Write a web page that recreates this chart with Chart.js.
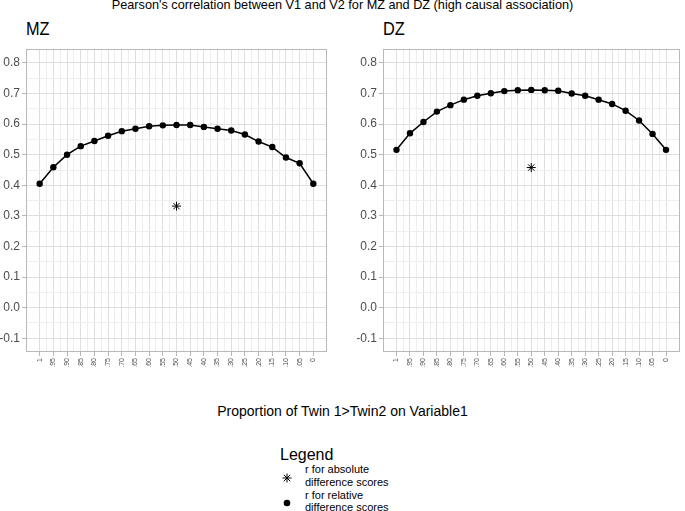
<!DOCTYPE html>
<html>
<head>
<meta charset="utf-8">
<script src="https://cdn.jsdelivr.net/npm/chart.js@4/dist/chart.umd.min.js"></script>
<style>
  body { margin: 0; background: #fff; font-family: "Liberation Sans", Arial, sans-serif; }
  #wrap { position: relative; width: 685px; height: 511px; overflow: hidden; }
  .txt { position: absolute; white-space: nowrap; color: #000; }
  canvas { position: absolute; }
</style>
</head>
<body>
<div id="wrap">
  <div class="txt" id="mainTitle" style="left:0;width:685px;text-align:center;top:-1px;font-size:12.7px;line-height:13px;">Pearson's correlation between V1 and V2 for MZ and DZ (high causal association)</div>
  <div class="txt" style="left:26px;top:19px;font-size:19px;line-height:19px;transform:scaleX(0.86);transform-origin:left;">MZ</div>
  <div class="txt" style="left:383px;top:19px;font-size:19px;line-height:19px;transform:scaleX(0.86);transform-origin:left;">DZ</div>
  <canvas id="mz" width="334" height="345" style="left:0;top:40px;"></canvas>
  <canvas id="dz" width="328" height="345" style="left:357px;top:40px;"></canvas>
  <div class="txt" style="left:0;width:685px;text-align:center;top:404px;font-size:14px;line-height:15px;">Proportion of Twin 1&gt;Twin2 on Variable1</div>
  <div class="txt" style="left:280px;top:446px;font-size:16px;line-height:18px;">Legend</div>
  <svg style="position:absolute;left:281px;top:472px" width="12" height="12" viewBox="-6 -6 12 12">
    <g stroke="#000" stroke-width="1"><line x1="-4.5" y1="0" x2="4.5" y2="0"/><line x1="0" y1="-4.5" x2="0" y2="4.5"/><line x1="-3.2" y1="-3.2" x2="3.2" y2="3.2"/><line x1="-3.2" y1="3.2" x2="3.2" y2="-3.2"/></g>
  </svg>
  <div class="txt" style="left:305px;top:463px;font-size:11px;line-height:13px;">r for absolute<br>difference scores</div>
  <svg style="position:absolute;left:281px;top:497px" width="12" height="12" viewBox="-6 -6 12 12"><circle r="3.3" fill="#000"/></svg>
  <div class="txt" style="left:305px;top:489px;font-size:11px;line-height:12px;">r for relative<br>difference scores</div>
</div>
<script>
// proportion of twin 1 > twin 2 (x positions) and their labels
const xValues = [1, 0.95, 0.90, 0.85, 0.80, 0.75, 0.70, 0.65, 0.60, 0.55, 0.50, 0.45, 0.40, 0.35, 0.30, 0.25, 0.20, 0.15, 0.10, 0.05, 0];
const xTickLabels = ["1", ".95", ".90", ".85", ".80", ".75", ".70", ".65", ".60", ".55", ".50", ".45", ".40", ".35", ".30", ".25", ".20", ".15", ".10", ".05", "0"];

// r for relative difference scores
const mzRelative = [0.405, 0.459, 0.500, 0.528, 0.545, 0.562, 0.577, 0.585, 0.593, 0.596, 0.597, 0.597, 0.591, 0.585, 0.579, 0.566, 0.543, 0.525, 0.491, 0.472, 0.405];
const dzRelative = [0.516, 0.570, 0.607, 0.641, 0.662, 0.680, 0.693, 0.701, 0.708, 0.711, 0.712, 0.711, 0.709, 0.700, 0.693, 0.680, 0.666, 0.644, 0.612, 0.568, 0.516];

// r for absolute difference scores (one value, plotted at .50)
const absX = [0.5];
const mzAbsolute = [0.332];
const dzAbsolute = [0.458];

const yTicks = [-0.1, 0.0, 0.1, 0.2, 0.3, 0.4, 0.5, 0.6, 0.7, 0.8];

const MAJOR = "#dedede";
const MINOR = "#eeeeee";
const BORDER = "#b8b8b8";
const FONT = "'Liberation Sans', Arial, sans-serif";

// ticks alternate major / minor so the minor grid can be drawn
function withMinor(vals) {
  const out = [];
  vals.forEach((v, i) => {
    out.push({ value: v });
    if (i < vals.length - 1) out.push({ value: (v + vals[i + 1]) / 2 });
  });
  return out;
}

const panelBorder = {
  id: "panelBorder",
  afterDraw(chart) {
    const a = chart.chartArea;
    const ctx = chart.ctx;
    ctx.save();
    ctx.strokeStyle = BORDER;
    ctx.lineWidth = 1;
    ctx.strokeRect(Math.round(a.left) + 0.5, Math.round(a.top) + 0.5,
      Math.round(a.right - a.left) - 1, Math.round(a.bottom - a.top) - 1);
    ctx.restore();
  }
};

function makeChart(id, relative, absolute, rightPad) {
  new Chart(document.getElementById(id), {
    data: {
      datasets: [
        {
          type: "line",
          label: "r for relative difference scores",
          data: xValues.map((x, i) => ({ x: x, y: relative[i] })),
          borderColor: "#000",
          backgroundColor: "#000",
          borderWidth: 1.5,
          pointRadius: 3.2,
          pointBorderWidth: 0,
          pointHoverRadius: 3.2,
          tension: 0
        },
        {
          type: "scatter",
          label: "r for absolute difference scores",
          data: absX.map((x, i) => ({ x: x, y: absolute[i] })),
          pointStyle: "star",
          pointRadius: 4.5,
          borderColor: "#000",
          borderWidth: 1
        }
      ]
    },
    options: {
      responsive: false,
      animation: false,
      devicePixelRatio: 1,
      layout: { padding: { top: 3, right: rightPad, bottom: 0, left: 0 } },
      plugins: { legend: { display: false }, tooltip: { enabled: false } },
      scales: {
        x: {
          type: "linear",
          reverse: true,
          min: -0.05,
          max: 1.05,
          afterBuildTicks: s => { s.ticks = withMinor(xValues); },
          afterFit: s => { s.height = 33; },
          border: { display: false },
          grid: {
            color: c => (c.index % 2 ? MINOR : MAJOR),
            tickColor: c => (c.index % 2 ? "rgba(0,0,0,0)" : BORDER),
            tickLength: 4,
            lineWidth: 1
          },
          ticks: {
            autoSkip: false,
            minRotation: 90,
            maxRotation: 90,
            padding: 2,
            color: "#4d4d4d",
            font: { family: FONT, size: 7 },
            callback: (v, i) => (i % 2 ? "" : xTickLabels[i / 2])
          }
        },
        y: {
          min: -0.145,
          max: 0.845,
          afterBuildTicks: s => { s.ticks = withMinor(yTicks); },
          afterFit: s => { s.width = 26; },
          border: { display: false },
          grid: {
            color: c => (c.index % 2 ? MINOR : MAJOR),
            tickColor: c => (c.index % 2 ? "rgba(0,0,0,0)" : BORDER),
            tickLength: 4,
            lineWidth: 1
          },
          ticks: {
            autoSkip: false,
            padding: 2,
            color: "#4d4d4d",
            font: { family: FONT, size: 12 },
            callback: (v, i) => (i % 2 ? "" : yTicks[i / 2].toFixed(1))
          }
        }
      }
    },
    plugins: [panelBorder]
  });
}

makeChart("mz", mzRelative, mzAbsolute, 7);
makeChart("dz", dzRelative, dzAbsolute, 1);
</script>
</body>
</html>
